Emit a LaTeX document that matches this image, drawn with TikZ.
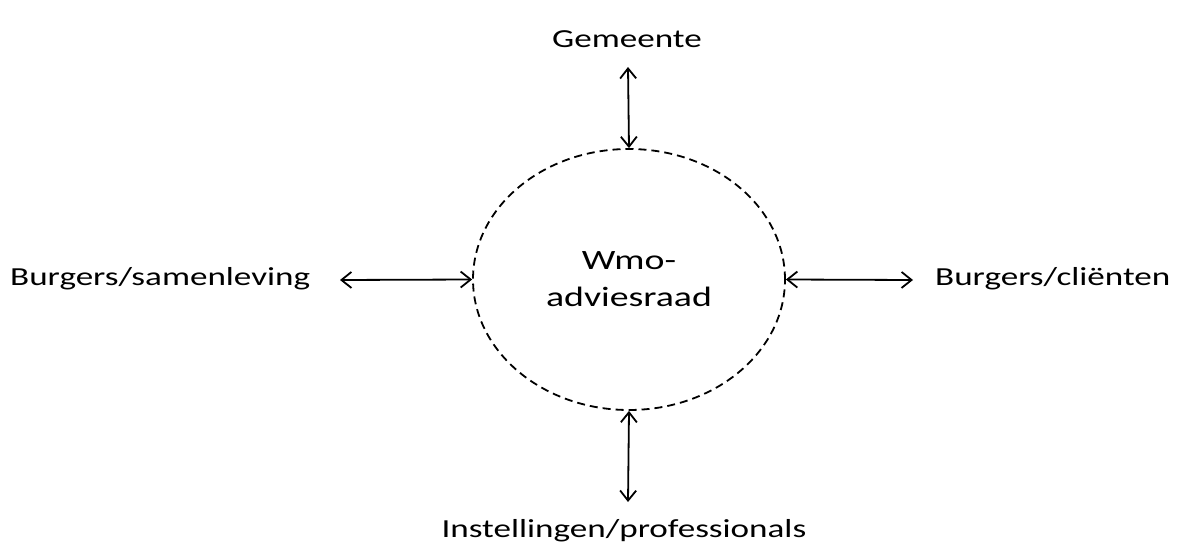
\documentclass[tikz,border=0pt]{standalone}
\usepackage{fontspec}
\setmainfont{Carlito}
\usetikzlibrary{arrows.meta,shapes.geometric}
\newcommand{\wide}[1]{\scalebox{1.35}[1]{#1}}
\tikzset{
  lbl/.style={font=\fontsize{26}{37}\selectfont, inner sep=0pt},
  biarrow/.style={line width=1.8pt, {Straight Barb[length=10pt,width=16pt,line width=1.8pt]}-{Straight Barb[length=10pt,width=16pt,line width=1.8pt]}},
  council/.style={draw, ellipse, line width=1.8pt, dash pattern=on 8pt off 5pt, inner sep=0pt,
    minimum width=312pt, minimum height=261pt, align=center, font=\fontsize{28}{37}\selectfont}
}
\begin{document}
\begin{tikzpicture}[x=1pt,y=1pt]
\useasboundingbox (0,0) rectangle (1179,542);
\node[council] (adv) at (629,262.5) {\wide{Wmo-}\\\wide{adviesraad}};
\node[lbl, anchor=base] (gem) at (627,494) {\wide{Gemeente}};
\node[lbl, anchor=base west] (sam) at (10,257) {\wide{Burgers/samenleving}};
\node[lbl, anchor=base west] (cli) at (935,257) {\wide{Burgers/cliënten}};
\node[lbl, anchor=base] (ins) at (624,5) {\wide{Instellingen/professionals}};
\coordinate (gt) at (628,475);
\coordinate (sl) at (340,262);
\coordinate (cr) at (913,262);
\coordinate (ib) at (628,40);
\draw[biarrow] (gt) -- (adv.north);
\draw[biarrow] (sl) -- (adv.west);
\draw[biarrow] (adv.east) -- (cr);
\draw[biarrow] (adv.south) -- (ib);
\end{tikzpicture}
\end{document}
